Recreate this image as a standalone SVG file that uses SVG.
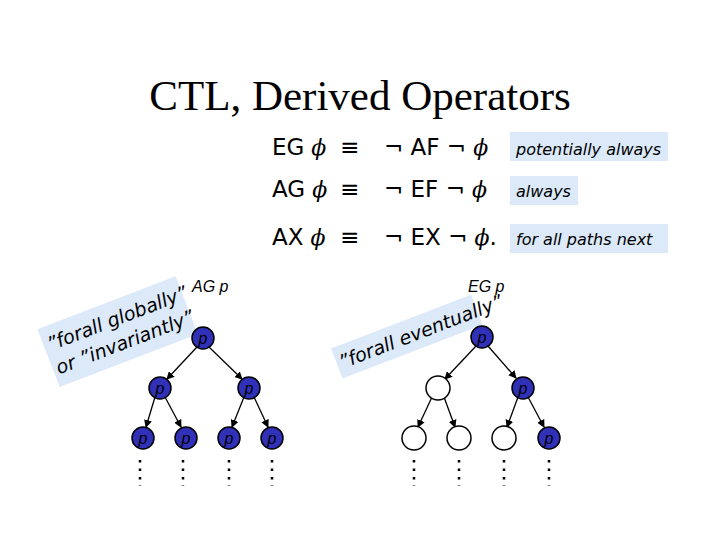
<svg xmlns="http://www.w3.org/2000/svg" width="720" height="540" viewBox="0 0 720 540">
<style>
.f{font-family:"DejaVu Sans",sans-serif;font-size:23px;fill:#000}
.ph{font-family:"DejaVu Serif",serif;font-style:italic;font-size:22px}
.lb{font-family:"DejaVu Sans",sans-serif;font-style:italic;font-size:16px;fill:#000}
.bx{fill:#dbe9f9}
.q{font-family:"DejaVu Sans",sans-serif;font-style:italic;font-size:19px;fill:#000}
.t{font-family:"Liberation Sans",Arial,sans-serif;font-style:italic;font-size:16px;fill:#000}
.b{fill:#3030b8;stroke:#000;stroke-width:1.5}
.w{fill:#fff;stroke:#000;stroke-width:1.5}
.p{font-family:"Liberation Sans",Arial,sans-serif;font-style:italic;font-size:16px;fill:#000;text-anchor:middle}
.e{stroke:#000;stroke-width:1.3;marker-end:url(#a)}
.d{stroke:#000;stroke-width:2.5;stroke-dasharray:2.5,6}
</style>
<defs><marker id="a" markerWidth="8" markerHeight="8" refX="7" refY="4" orient="auto" markerUnits="userSpaceOnUse"><path d="M0,0 L8,4 L0,8 z" fill="#000"/></marker></defs>
<rect width="720" height="540" fill="#fff"/>
<text x="360" y="110" text-anchor="middle" font-family="Liberation Serif,serif" font-size="43">CTL, Derived Operators</text>
<g id="formulas">
<text class="f" x="272" y="155">EG<tspan class="ph"> ϕ</tspan></text><text class="f" x="340" y="155">≡</text><text class="f" x="384" y="155">¬ AF ¬<tspan class="ph"> ϕ</tspan></text>
<text class="f" x="272" y="197">AG<tspan class="ph"> ϕ</tspan></text><text class="f" x="340" y="197">≡</text><text class="f" x="384" y="197">¬ EF ¬<tspan class="ph"> ϕ</tspan></text>
<text class="f" x="272" y="245">AX<tspan class="ph"> ϕ</tspan></text><text class="f" x="340" y="245">≡</text><text class="f" x="384" y="245">¬ EX ¬<tspan class="ph"> ϕ</tspan>.</text>
</g>
<g id="notes">
<rect class="bx" x="510" y="132" width="158" height="29"/><text class="lb" x="516" y="155">potentially always</text>
<rect class="bx" x="510" y="176" width="68" height="29"/><text class="lb" x="516" y="197">always</text>
<rect class="bx" x="510" y="224" width="158" height="29"/><text class="lb" x="516" y="245">for all paths next</text>
</g>
<g id="label-left" transform="rotate(-21 120 335)">
<rect class="bx" x="45" y="300" width="148" height="62"/>
<text class="q" x="49" y="325">”forall globally”</text>
<text class="q" x="49" y="350">or ”invariantly”</text>
</g>
<text class="t" x="192" y="292">AG p</text>
<g id="label-right" transform="rotate(-21 410 345)">
<rect class="bx" x="335" y="320" width="150" height="32"/>
<text class="q" x="338" y="343" font-size="18">”forall eventually”</text>
</g>
<text class="t" x="468" y="292">EG p</text>
<g id="connectors">
<line class="e" x1="197" y1="347" x2="167" y2="379"/><line class="e" x1="209" y1="347" x2="242" y2="379"/>
<line class="e" x1="155" y1="397" x2="146" y2="427"/><line class="e" x1="165" y1="397" x2="181" y2="427"/>
<line class="e" x1="244" y1="397" x2="232" y2="427"/><line class="e" x1="254" y1="397" x2="268" y2="427"/>
<line class="e" x1="476" y1="346" x2="445" y2="379"/><line class="e" x1="488" y1="346" x2="516" y2="378"/>
<line class="e" x1="432" y1="397" x2="418" y2="427"/><line class="e" x1="444" y1="397" x2="455" y2="427"/>
<line class="e" x1="518" y1="397" x2="507" y2="427"/><line class="e" x1="528" y1="397" x2="544" y2="427"/>
</g>
<g id="left-tree">
<circle class="b" cx="203" cy="338" r="11"/><text class="p" x="203" y="344">p</text>
<circle class="b" cx="160" cy="388" r="11"/><text class="p" x="160" y="394">p</text>
<circle class="b" cx="249" cy="388" r="11"/><text class="p" x="249" y="394">p</text>
<circle class="b" cx="143" cy="438" r="11"/><text class="p" x="143" y="444">p</text>
<circle class="b" cx="186" cy="438" r="11"/><text class="p" x="186" y="444">p</text>
<circle class="b" cx="229" cy="438" r="11"/><text class="p" x="229" y="444">p</text>
<circle class="b" cx="272" cy="438" r="11"/><text class="p" x="272" y="444">p</text>
</g>
<g id="right-tree">
<circle class="b" cx="482" cy="337" r="11"/><text class="p" x="482" y="343">p</text>
<circle class="w" cx="438" cy="388" r="12"/>
<circle class="b" cx="523" cy="388" r="11"/><text class="p" x="523" y="394">p</text>
<circle class="w" cx="414" cy="438" r="12"/>
<circle class="w" cx="459" cy="438" r="12"/>
<circle class="w" cx="504" cy="438" r="12"/>
<circle class="b" cx="549" cy="438" r="11"/><text class="p" x="549" y="444">p</text>
</g>
<g id="dots">
<line class="d" x1="140" y1="460" x2="140" y2="486"/><line class="d" x1="183" y1="460" x2="183" y2="486"/>
<line class="d" x1="229" y1="460" x2="229" y2="486"/><line class="d" x1="272" y1="460" x2="272" y2="486"/>
<line class="d" x1="414" y1="460" x2="414" y2="486"/><line class="d" x1="459" y1="460" x2="459" y2="486"/>
<line class="d" x1="504" y1="460" x2="504" y2="486"/><line class="d" x1="549" y1="460" x2="549" y2="486"/>
</g>
</svg>
